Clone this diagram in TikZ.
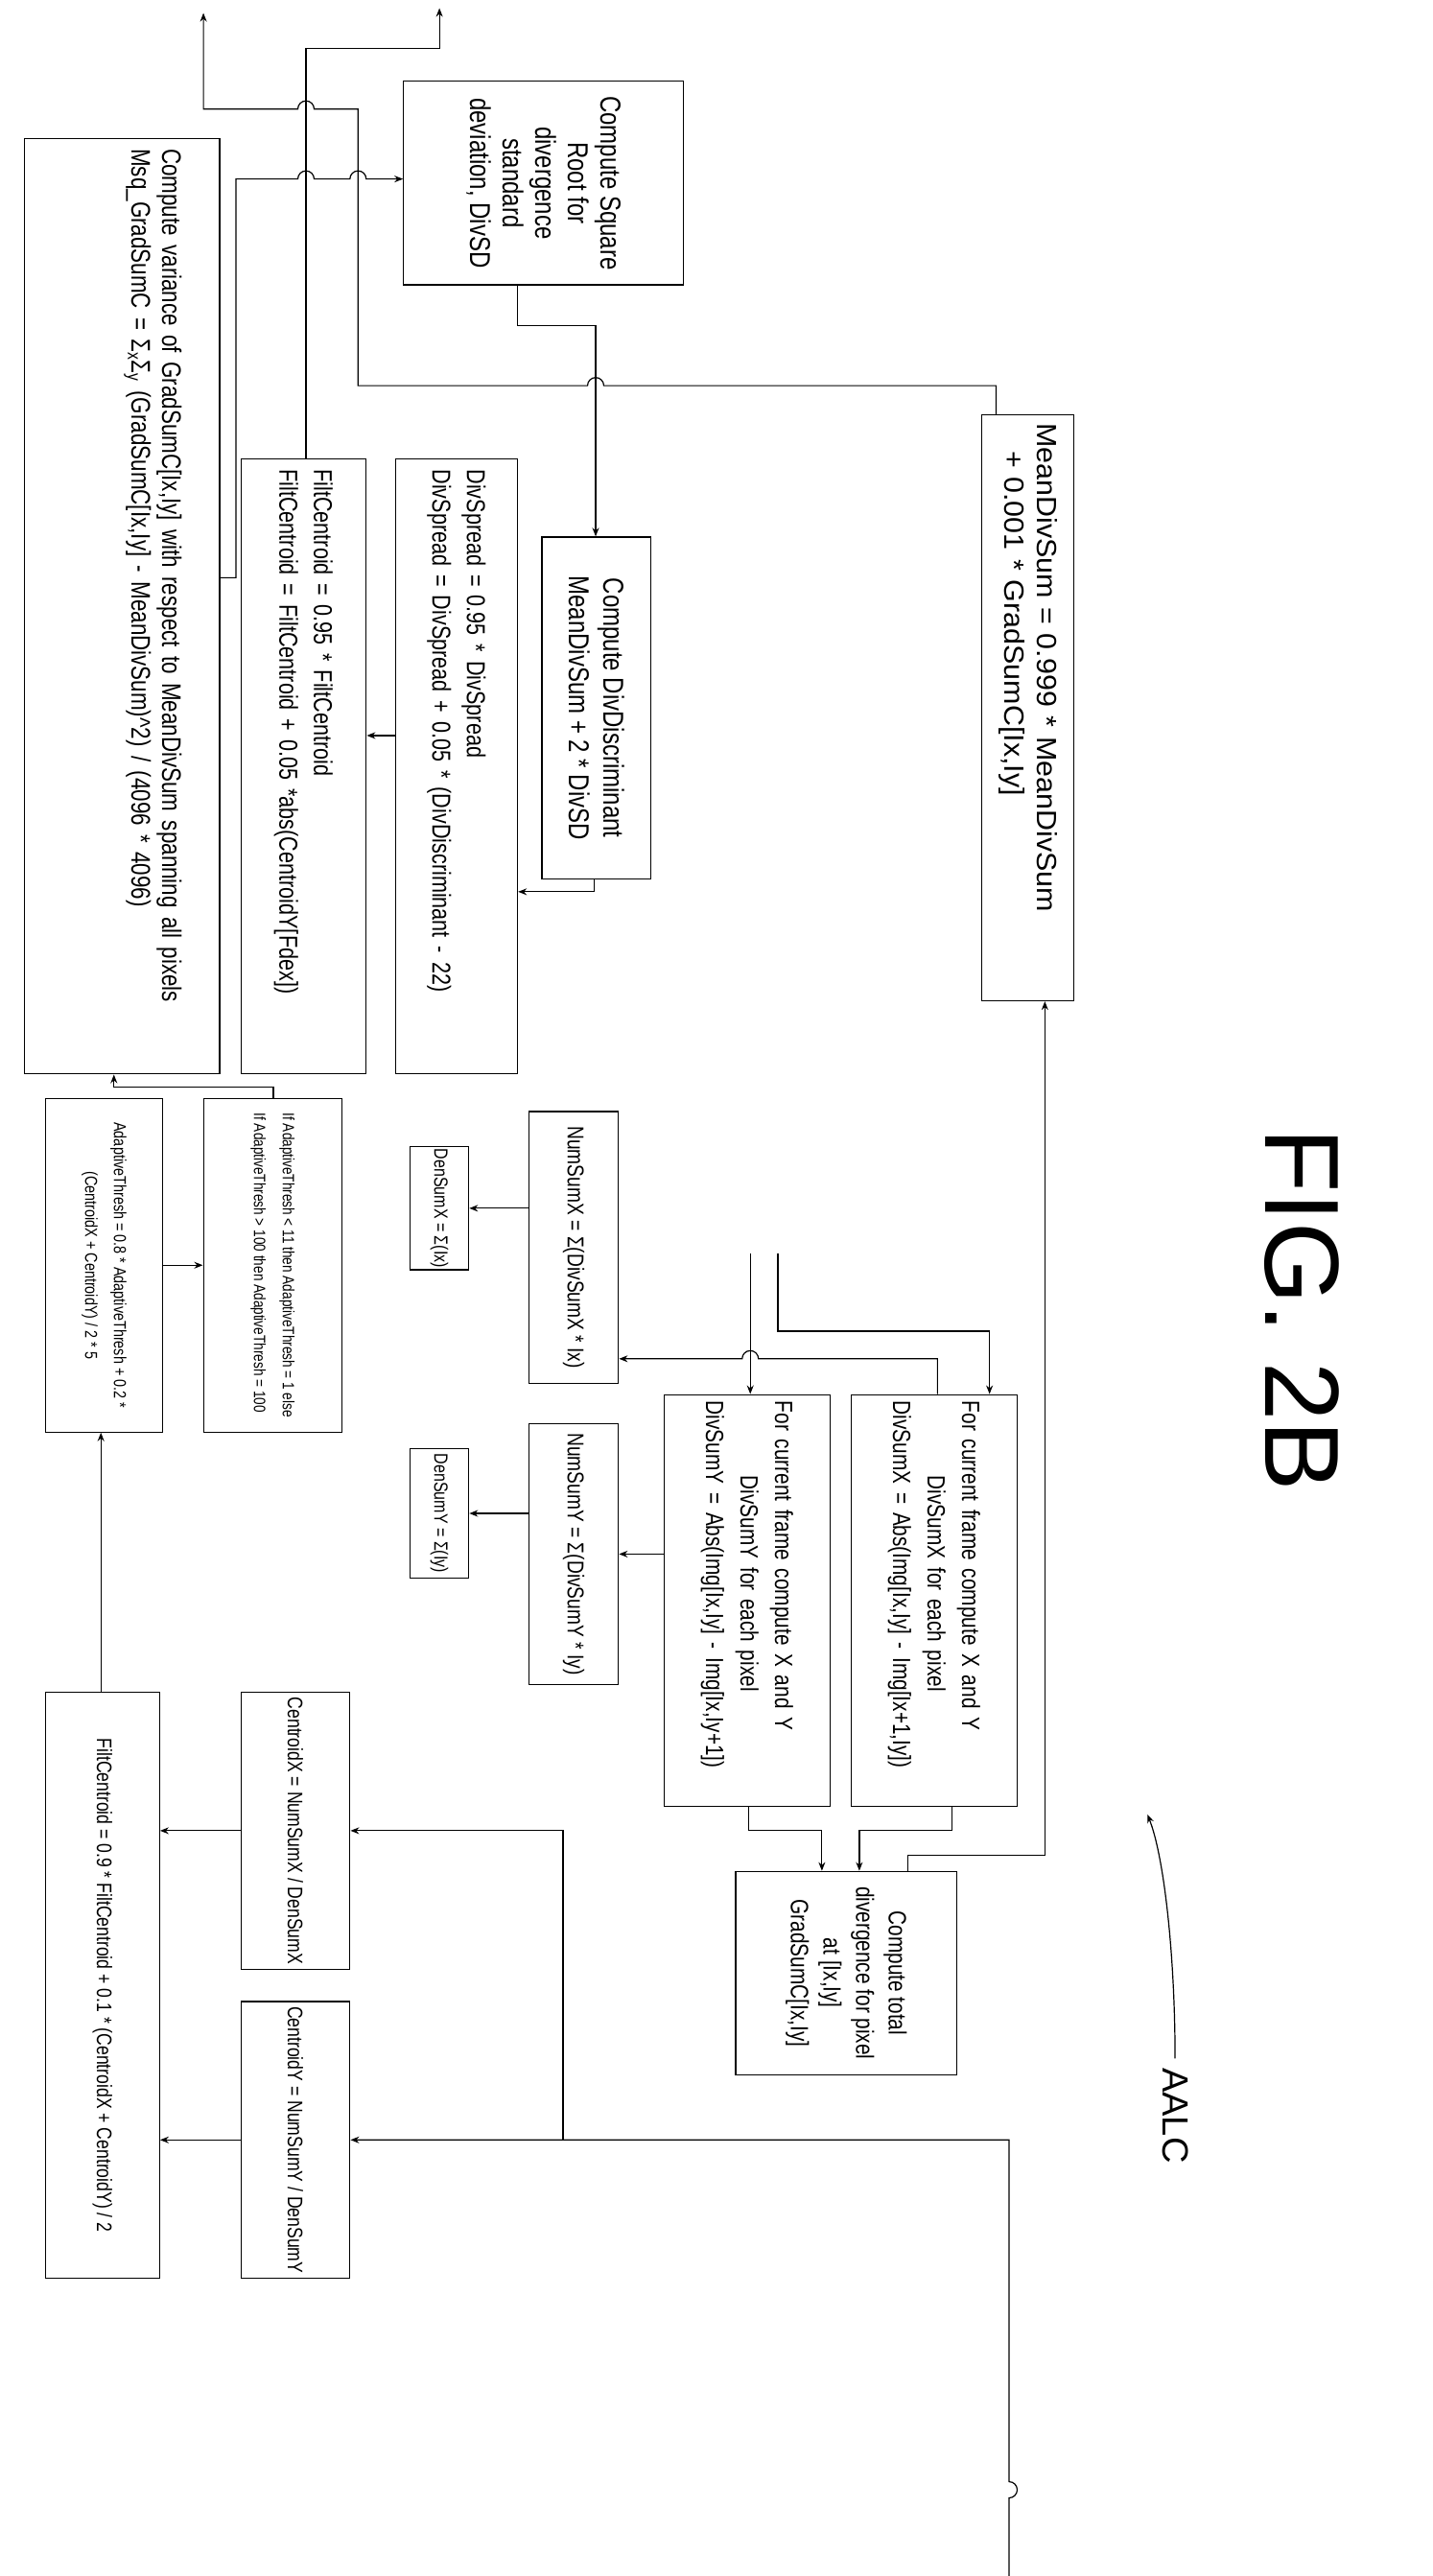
\documentclass[tikz,border=0pt]{standalone}
\usepackage{fontspec}
\setmainfont[FakeStretch=0.8]{Liberation Sans}
\newfontfamily\figfont{Liberation Sans}
\newfontfamily\widefont[FakeStretch=1.05]{Liberation Sans}
\usetikzlibrary{arrows.meta}
\newdimen\U \U=1.697pt
\newcommand\fs[2]{\fontsize{#1}{#2}\selectfont}
\begin{document}
\begin{tikzpicture}[x=1.697pt,y=-1.697pt,
 box/.style={draw,line width=1.2pt,rotate=-90,inner sep=5pt,font=\fs{22}{30}},
 ln/.style={line width=1.2pt},
 ar/.style={ln,-{Stealth[length=9pt,width=7pt]}}]
\path[use as bounding box] (0,0) rectangle (880,1583);
\node[box,minimum width=575*\U,minimum height=120*\U,text width=562\U,align=left,font=\fs{28}{32},inner ysep=8pt] (v) at (75,372.5)
 {Compute variance of GradSumC[Ix,Iy] with respect to MeanDivSum spanning all pixels\\
  Msq\_GradSumC = Σ\textsubscript{x}Σ\textsubscript{y} (GradSumC[Ix,Iy] - MeanDivSum)\textasciicircum2) / (4096 * 4096)\\[40pt]\mbox{}};
\node[box,minimum width=125*\U,minimum height=172*\U,align=center,font=\fs{30}{34}] (sq) at (334,112.5)
 {Compute Square\\Root for\\divergence\\standard\\deviation, DivSD};
\node[box,minimum width=378*\U,minimum height=77*\U,text width=365\U,align=left,font=\fs{27}{36}] (fc1) at (186.5,471)
 {FiltCentroid = 0.95 * FiltCentroid\\FiltCentroid = FiltCentroid + 0.05 *abs(CentroidY[Fdex])};
\node[box,minimum width=378*\U,minimum height=75*\U,text width=365\U,align=left,font=\fs{27}{36}] (ds) at (280.5,471)
 {DivSpread = 0.95 * DivSpread\\DivSpread = DivSpread + 0.05 * (DivDiscriminant - 22)};
\node[box,minimum width=210*\U,minimum height=67*\U,align=center,font=\fs{30}{36}] (dd) at (366.5,435)
 {Compute DivDiscriminant\\MeanDivSum + 2 * DivSD};
\node[box,minimum width=360*\U,minimum height=57*\U,text width=350\U,align=left,font=\widefont\fs{29}{34}] (md) at (631.5,435)
 {MeanDivSum = 0.999 * MeanDivSum\\\quad + 0.001 * GradSumC[Ix,Iy]};
\node[box,minimum width=205*\U,minimum height=85*\U,align=left,font=\fs{17}{30}] (at1) at (167.5,777.5)
 {If AdaptiveThresh < 11 then AdaptiveThresh = 1 else\\If AdaptiveThresh > 100 then AdaptiveThresh = 100};
\node[box,minimum width=205*\U,minimum height=72*\U,align=center,font=\fs{18}{30}] (at2) at (64,777.5)
 {AdaptiveThresh = 0.8 * AdaptiveThresh + 0.2 *\\(CentroidX + CentroidY) / 2 * 5};
\node[box,minimum width=167*\U,minimum height=55*\U,align=center,font=\fs{24}{30}] (nx) at (352.5,766.5) {NumSumX = Σ(DivSumX * Ix)};
\node[box,minimum width=75*\U,minimum height=36*\U,align=center,inner sep=2pt,font=\fs{20}{22}] (dx) at (270,742.5) {DenSumX = Σ(Ix)};
\node[box,minimum width=253*\U,minimum height=102*\U,text width=245\U,align=left,font=\fs{26}{36}] (fx) at (574,983.5)
 {For current frame compute X and Y\\\hspace*{3em}DivSumX for each pixel\\DivSumX = Abs(Img[Ix,Iy] - Img[Ix+1,Iy])};
\node[box,minimum width=253*\U,minimum height=102*\U,text width=245\U,align=left,font=\fs{26}{36}] (fy) at (459,983.5)
 {For current frame compute X and Y\\\hspace*{3em}DivSumY for each pixel\\DivSumY = Abs(Img[Ix,Iy] - Img[Ix,Iy+1])};
\node[box,minimum width=160*\U,minimum height=55*\U,align=center,font=\fs{24}{30}] (ny) at (352.5,955) {NumSumY = Σ(DivSumY * Iy)};
\node[box,minimum width=80*\U,minimum height=36*\U,align=center,inner sep=2pt,font=\fs{20}{22}] (dy) at (270,930) {DenSumY = Σ(Iy)};
\node[box,minimum width=125*\U,minimum height=136*\U,align=center,font=\fs{26}{34}] (td) at (520,1212.5)
 {Compute total\\divergence for pixel\\at [Ix,Iy]\\GradSumC[Ix,Iy]};
\node[box,minimum width=170*\U,minimum height=67*\U,align=center] (cx) at (181.5,1125) {CentroidX = NumSumX / DenSumX};
\node[box,minimum width=170*\U,minimum height=67*\U,align=center] (cy) at (181.5,1315) {CentroidY = NumSumY / DenSumY};
\node[box,minimum width=360*\U,minimum height=70*\U,align=center] (fc2) at (63,1220)
 {FiltCentroid = 0.9 * FiltCentroid + 0.1 * (CentroidX + CentroidY) / 2};
% labels
\node[rotate=-90,font=\figfont\fs{110}{110}] (fig) at (800,805) {FIG. 2B};
\node[rotate=-90,font=\figfont\fs{38}{38}] (aalc) at (722,1300) {AALC};
\coordinate (aalcs) at (722,1265);
\coordinate (aalce) at (705,1115);
\draw[ar] (aalcs) .. controls (722,1200) and (715,1140) .. (aalce);
% free ends
\coordinate (up1) at (125,8);
\coordinate (up2) at (270,5);
\coordinate (inA) at (461,770);
\coordinate (inB) at (478,770);
\coordinate (inC) at (620,1583);
% connectors
\draw[ar] (612,0 |- md.west) -- (612,237) -- (371,237) arc[start angle=0,end angle=-180,radius=5]
  -- (220,237) -- (220,67) -- (193,67) arc[start angle=0,end angle=-180,radius=5] -- (125,67) -- (up1);
\draw[ar] (188,0 |- fc1.west) -- (188,30) -- (270,30) -- (up2);
\draw[ar] (v.north |- 0,355) -- (145,355) -- (145,110) -- (183,110) arc[start angle=180,end angle=360,radius=5]
  -- (215,110) arc[start angle=180,end angle=360,radius=5] -- (sq.south |- 0,110);
\draw[ar] (318,0 |- sq.east) -- (318,200) -- (366,200) -- (366,0 |- dd.west);
\draw[ar] (365,0 |- dd.east) -- (365,548) -- (ds.north |- 0,548);
\draw[ar] (ds.south |- 0,452) -- (fc1.north |- 0,452);
\draw[ar] (168,0 |- at1.west) -- (168,668) -- (70,668) -- (70,0 |- v.east);
\draw[ar] (at2.north) -- (at1.south);
\draw[ar] (62,0 |- fc2.west) -- (62,0 |- at2.east);
\draw[ar] (nx.south |- 0,742.5) -- (dx.north);
\draw[ar] (ny.south |- 0,930) -- (dy.north);
\draw[ar] (fy.south |- 0,955) -- (ny.north |- 0,955);
\draw[ar] (inA) -- (461,0 |- fy.west);
\draw[ar] (inB) -- (478,818) -- (608,818) -- (608,0 |- fx.west);
\draw[ar] (576,0 |- fx.west) -- (576,835) -- (466,835) arc[start angle=0,end angle=-180,radius=5] -- (nx.north |- 0,835);
\draw[ar] (460,0 |- fy.east) -- (460,1125) -- (505,1125) -- (505,0 |- td.west);
\draw[ar] (585,0 |- fx.east) -- (585,1125) -- (528,1125) -- (528,0 |- td.west);
\draw[ar] (558,0 |- td.west) -- (558,1140) -- (642,1140) -- (642,0 |- md.east);
\draw[ar] (inC) -- (620,1535) arc[start angle=90,end angle=-90,radius=5] -- (620,1315) -- (cy.north |- 0,1315);
\draw[ar] (346,1315) -- (346,1125) -- (cx.north);
\draw[ar] (cx.south) -- (fc2.north |- 0,1125);
\draw[ar] (cy.south) -- (fc2.north |- 0,1315);
\end{tikzpicture}
\end{document}
